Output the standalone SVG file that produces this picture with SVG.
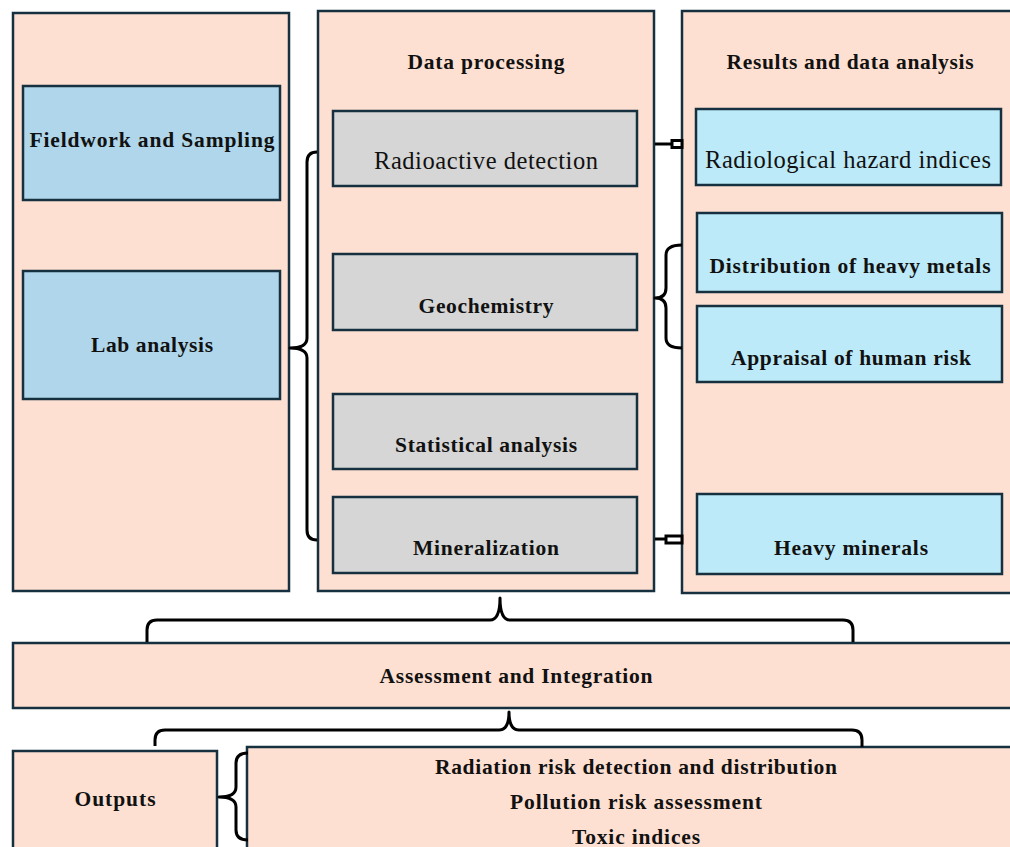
<svg xmlns="http://www.w3.org/2000/svg" width="1010" height="847" viewBox="0 0 1010 847">
<style>
.panel{fill:#fde0d2;stroke:#17303f;stroke-width:2.5}
.blue{fill:#afd6ea;stroke:#17303f;stroke-width:2.5}
.gray{fill:#d6d6d6;stroke:#17303f;stroke-width:2.5}
.cyan{fill:#bdeaf8;stroke:#17303f;stroke-width:2.5}
.t{font-family:"Liberation Serif","Times New Roman",serif;font-weight:bold;font-size:21.5px;fill:#111;text-anchor:middle}
.r{font-family:"Liberation Serif","Times New Roman",serif;font-size:24.5px;fill:#111;text-anchor:middle}
.c{fill:none;stroke:#000;stroke-width:3;stroke-linejoin:round}
</style>
<rect width="1010" height="847" fill="#fff"/>
<g id="left-panel">
<rect class="panel" x="13" y="13" width="276" height="578"/>
</g>
<g id="fieldwork">
<rect class="blue" x="23" y="86" width="257" height="114"/>
<text class="t" x="152" y="147" textLength="245">Fieldwork and Sampling</text>
</g>
<g id="lab">
<rect class="blue" x="23" y="271" width="257" height="128"/>
<text class="t" x="152" y="352" textLength="122">Lab analysis</text>
</g>
<g id="data-processing">
<rect class="panel" x="318" y="11" width="336" height="580"/>
<text class="t" x="486" y="69" textLength="157">Data processing</text>
</g>
<g id="radioactive">
<rect class="gray" x="333" y="111" width="304" height="75"/>
<text class="r" x="486" y="169" textLength="224">Radioactive detection</text>
</g>
<g id="geochemistry">
<rect class="gray" x="333" y="254" width="304" height="76"/>
<text class="t" x="486" y="313" textLength="135">Geochemistry</text>
</g>
<g id="statistical">
<rect class="gray" x="333" y="394" width="304" height="75"/>
<text class="t" x="486" y="452" textLength="182">Statistical analysis</text>
</g>
<g id="mineralization">
<rect class="gray" x="333" y="497" width="304" height="76"/>
<text class="t" x="486" y="555" textLength="146">Mineralization</text>
</g>
<g id="results">
<rect class="panel" x="682" y="11" width="340" height="582"/>
<text class="t" x="850" y="69" textLength="247">Results and data analysis</text>
</g>
<g id="radiological">
<rect class="cyan" x="696" y="109" width="305" height="76"/>
<text class="r" x="848" y="168" textLength="286">Radiological hazard indices</text>
</g>
<g id="distribution">
<rect class="cyan" x="697" y="213" width="305" height="79"/>
<text class="t" x="850" y="273" textLength="281">Distribution of heavy metals</text>
</g>
<g id="appraisal">
<rect class="cyan" x="697" y="306" width="305" height="76"/>
<text class="t" x="851" y="365" textLength="240">Appraisal of human risk</text>
</g>
<g id="heavy-minerals">
<rect class="cyan" x="697" y="494" width="305" height="80"/>
<text class="t" x="851" y="555" textLength="154">Heavy minerals</text>
</g>
<g id="assessment">
<rect class="panel" x="13" y="643" width="1010" height="65"/>
<text class="t" x="516" y="683" textLength="273">Assessment and Integration</text>
</g>
<g id="outputs">
<rect class="panel" x="13" y="751" width="204" height="110"/>
<text class="t" x="115" y="806" textLength="81">Outputs</text>
</g>
<g id="output-list">
<rect class="panel" x="247" y="747" width="780" height="120"/>
<text class="t" x="636" y="774" textLength="402">Radiation risk detection and distribution</text>
<text class="t" x="636" y="809" textLength="252">Pollution risk assessment</text>
<text class="t" x="636" y="844" textLength="128">Toxic indices</text>
</g>
<g id="connectors">
<path class="c" d="M317,152 Q307,152 307,162 L307,338 Q307,348 290,348 Q307,348 307,358 L307,530 Q307,540 317,540"/>
<path class="c" d="M682,245 Q666,245 666,255 L666,288 Q666,298 655,298 Q666,298 666,308 L666,338 Q666,348 682,348"/>
<path class="c" d="M655,144 L672,144"/>
<rect x="672" y="140.5" width="10" height="7" fill="#fff" stroke="#000" stroke-width="3"/>
<path class="c" d="M655,539 L666,539"/>
<rect x="666" y="536" width="16" height="7" fill="#fff" stroke="#000" stroke-width="3"/>
<path class="c" d="M147,642 L147,630 Q147,620 157,620 L490,620 Q500,620 500,598 Q500,620 510,620 L843,620 Q853,620 853,630 L853,642"/>
<path class="c" d="M155,746 L155,740 Q155,730 165,730 L499,730 Q509,730 509,712 Q509,730 519,730 L852,730 Q862,730 862,740 L862,747"/>
<path class="c" d="M248,753 Q236,753 236,763 L236,787 Q236,797 219,797 Q236,797 236,807 L236,830 Q236,840 248,840"/>
</g>
</svg>
